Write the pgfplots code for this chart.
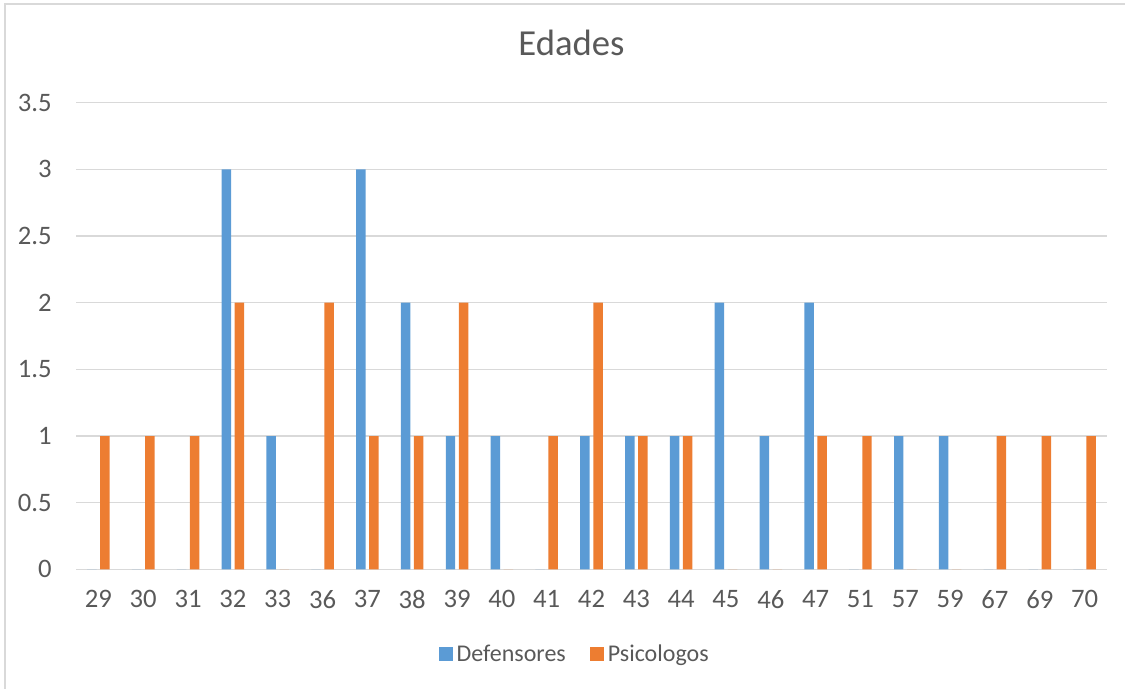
\documentclass[border=0pt]{standalone}
\usepackage{pgfplots}
\pgfplotsset{compat=1.18}
\usepackage{fontspec}
\setmainfont{Carlito}
\definecolor{barblue}{HTML}{5B9BD5}
\definecolor{barorange}{HTML}{ED7D31}
\definecolor{txtgray}{HTML}{595959}
\definecolor{gridgray}{HTML}{D9D9D9}

\begin{document}
\begin{tikzpicture}
% page: 1125 x 689 px at 0.75pt per px
\path[use as bounding box] (0,0) rectangle (843.75pt,-516.75pt);
\draw[gridgray, line width=0.9pt] (3.75pt,-520pt) -- (3.75pt,-3pt) -- (850pt,-3pt);
\begin{axis}[
    at={(57pt,-427pt)}, anchor=south west,
    scale only axis,
    width=773.25pt, height=350pt,
    xmin=-0.5, xmax=22.5,
    ymin=0, ymax=3.5,
    xtick={0,...,22},
    xticklabels={29,30,31,32,33,36,37,38,39,40,41,42,43,44,45,46,47,51,57,59,67,69,70},
    ytick={0,0.5,1,1.5,2,2.5,3,3.5},
    yticklabels={0,0.5,1,1.5,2,2.5,3,3.5},
    ymajorgrids,
    grid style={gridgray, line width=1.1pt},
    axis line style={draw=none},
    tick style={draw=none},
    font=\fontsize{20pt}{24pt}\selectfont,
    every tick label/.append style={text=txtgray},
    xticklabel style={inner sep=0pt, yshift=-15.75pt},
    yticklabel style={inner sep=0pt, xshift=-18pt},
    title={Edades},
    title style={at={(0.4806,1.0844)}, anchor=base, yshift=0pt, text=txtgray,
                 font=\fontsize{27.5pt}{33pt}\selectfont},
    legend columns=2,
    legend style={at={(0.484,-0.1815)}, anchor=center, draw=none, fill=none,
                  text=txtgray, font=\fontsize{18pt}{22pt}\selectfont,
                  /tikz/every odd column/.append style={column sep=1pt},
                  /tikz/every even column/.append style={column sep=16pt},
                  inner sep=0pt},
    legend image code/.code={\fill[#1] (0pt,-5.25pt) rectangle (10.5pt,5.25pt);},
]
\addplot[ybar, bar width=7.1pt, bar shift=-4.9pt, fill=barblue, draw=none] coordinates {
    (0,0) (1,0) (2,0) (3,3) (4,1) (5,0) (6,3) (7,2) (8,1) (9,1) (10,0)
    (11,1) (12,1) (13,1) (14,2) (15,1) (16,2) (17,0) (18,1) (19,1) (20,0) (21,0) (22,0)
};
\addlegendentry{Defensores}
\addplot[ybar, bar width=7.1pt, bar shift=4.9pt, fill=barorange, draw=none] coordinates {
    (0,1) (1,1) (2,1) (3,2) (4,0) (5,2) (6,1) (7,1) (8,2) (9,0) (10,1)
    (11,2) (12,1) (13,1) (14,0) (15,0) (16,1) (17,1) (18,0) (19,0) (20,1) (21,1) (22,1)
};
\addlegendentry{Psicologos}
\end{axis}
\end{tikzpicture}
\end{document}
